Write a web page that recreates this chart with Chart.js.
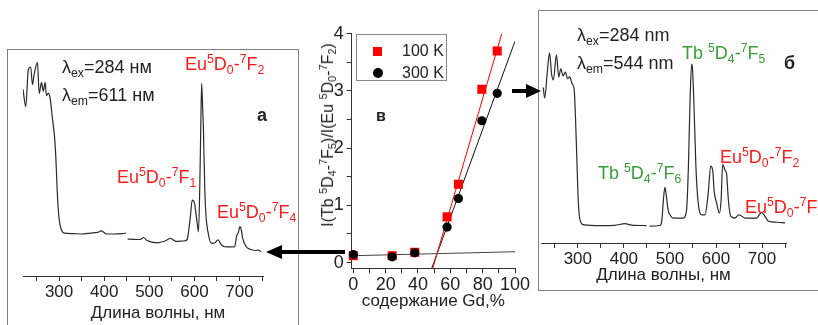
<!DOCTYPE html>
<html>
<head>
<meta charset="utf-8">
<script src="https://cdn.jsdelivr.net/npm/chart.js@4.4.1/dist/chart.umd.min.js"></script>
<style>
html, body { margin: 0; padding: 0; background: #fff; }
body { width: 818px; height: 325px; position: relative; overflow: hidden; font-family: "Liberation Sans", Arial, sans-serif; color: #222; }
.box { position: absolute; border: 1.5px solid #808080; box-sizing: border-box; }
canvas { position: absolute; }
.t { position: absolute; white-space: nowrap; line-height: 1; font-size: 18px; transform: translateY(-50%); }
.t sup, .t sub { font-size: 0.68em; line-height: 0; position: relative; vertical-align: baseline; }
.t sup { top: -0.55em; }
.t sub { top: 0.3em; }
.red { color: #ff1a1a; }
.green { color: #37a137; }
.b { font-weight: bold; }
#legend { position: absolute; left: 356px; top: 34px; width: 91px; height: 47px; border: 1px solid #888; box-sizing: border-box; font-size: 16px; }
#legend div { position: absolute; left: 0; white-space: nowrap; }
.mk { position: absolute; }
#ytitle { position: absolute; left: 328px; top: 135px; transform: translate(-50%, -50%) rotate(-90deg); white-space: nowrap; font-size: 16px; line-height: 1; }
#ytitle sup, #ytitle sub { font-size: 0.68em; line-height: 0; position: relative; vertical-align: baseline; }
#ytitle sup { top: -0.55em; }
#ytitle sub { top: 0.3em; }
svg { position: absolute; left: 0; top: 0; }
</style>
</head>
<body>

<div class="box" style="left:7px; top:49px; width:292px; height:300px;"></div>
<div class="box" style="left:538px; top:10px; width:300px; height:281px;"></div>

<canvas id="left" width="292" height="276" style="left:7px; top:49px;"></canvas>
<canvas id="mid" width="245" height="305" style="left:300px; top:20px;"></canvas>
<canvas id="right" width="280" height="250" style="left:538px; top:40px;"></canvas>

<!-- left panel (a) -->
<div class="t" style="left:62px; top:67px;">&lambda;<sub>ex</sub>=284 нм</div>
<div class="t" style="left:62px; top:95px;">&lambda;<sub>em</sub>=611 нм</div>
<div class="t red" style="left:185px; top:64px;">Eu<sup>5</sup>D<sub>0</sub>-<sup>7</sup>F<sub>2</sub></div>
<div class="t b" style="left:257px; top:115px;">а</div>
<div class="t red" style="left:117px; top:177px;">Eu<sup>5</sup>D<sub>0</sub>-<sup>7</sup>F<sub>1</sub></div>
<div class="t red" style="left:217px; top:212px;">Eu<sup>5</sup>D<sub>0</sub>-<sup>7</sup>F<sub>4</sub></div>
<div class="t" style="left:158px; top:312px; font-size:17px; transform:translate(-50%,-50%);">Длина волны, нм</div>

<!-- middle panel (в) -->
<div class="t b" style="left:376px; top:116px; font-size:16px;">в</div>
<div id="ytitle">I(Tb <sup>5</sup>D<sub>4</sub>-<sup>7</sup>F<sub>5</sub>)/I(Eu <sup>5</sup>D<sub>0</sub>-<sup>7</sup>F<sub>2</sub>)</div>
<div id="legend"></div>

<!-- right panel (б) -->
<div class="t" style="left:577px; top:35px;">&lambda;<sub>ex</sub>=284 nm</div>
<div class="t" style="left:577px; top:63px;">&lambda;<sub>em</sub>=544 nm</div>
<div class="t green" style="left:682px; top:53px;">Tb <sup>5</sup>D<sub>4</sub>-<sup>7</sup>F<sub>5</sub></div>
<div class="t b" style="left:784px; top:63px;">б</div>
<div class="t green" style="left:598px; top:173px;">Tb <sup>5</sup>D<sub>4</sub>-<sup>7</sup>F<sub>6</sub></div>
<div class="t red" style="left:720px; top:157px;">Eu<sup>5</sup>D<sub>0</sub>-<sup>7</sup>F<sub>2</sub></div>
<div class="t red" style="left:745px; top:207px;">Eu<sup>5</sup>D<sub>0</sub>-<sup>7</sup>F<sub>4</sub></div>

<svg width="818" height="325">
  <line x1="345" y1="252" x2="280" y2="252" stroke="#000" stroke-width="4"/>
  <polygon points="266,252 282,245 282,259" fill="#000"/>
  <line x1="512" y1="91" x2="528" y2="91" stroke="#000" stroke-width="4"/>
  <polygon points="541,91 526,84 526,98" fill="#000"/>
</svg>

<script>
// spectrum (a): excitation + emission, Eu line at 611 nm
const leftWavelength = [220, 226, 232, 237, 241, 245, 252, 256, 261, 265, 269, 272, 276, 280, 285, 290, 293, 296, 300, 305,
  312, 330, 350, 370, 385, 394, 405, 420, 440, 448, 450, 452, 470, 480, 487, 495, 517, 535, 547, 560,
  575, 584, 588, 591, 595, 600, 603, 606, 609, 612, 614, 616, 618, 620, 623, 626, 630, 637, 645, 652,
  660, 667, 680, 689, 694, 697, 701, 704, 707, 715, 722, 729, 735, 742, 748];
const leftIntensity = [85, 77, 94, 95, 87, 92, 97, 83, 88, 84, 88, 82, 83, 81, 72, 63, 53, 38, 26, 21,
  19.5, 19.3, 19.1, 19.5, 19.8, 20.5, 19.1, 19.1, 19.3, 19.5, null, 16.8, 16.6, 16.6, 17.5, 16.1, 15.1, 15.9, 17.1, 15.7,
  15.9, 16.6, 21.8, 27, 34.5, 33.2, 29, 24.1, 20.1, 42.3, 66.4, 87.6, 77.7, 66.4, 39.1, 26.4, 20.1, 14.9, 15, 16.4,
  14.1, 13.3, 13.2, 13.3, 18.6, 19.5, 22.4, 20.9, 17.1, 13.3, 12.3, 11.8, 11.6, 11.8, 11];

// spectrum (б): Tb line at 544 nm
const rightWavelength = [225, 228, 234, 238.5, 243, 247, 253.5, 258.5, 263, 268, 273, 277.5, 282.5, 287.5, 292, 295, 298, 300.5, 304, 311.5,
  351, 380, 402, 417, 449, 452, 456, 478, 482, 486, 489, 492, 496, 500, 507, 529, 536, 540, 543.5, 547,
  548.5, 552, 556.5, 561.5, 569, 576, 583, 588.5, 593, 596, 601.5, 607, 611, 614.5, 619.5, 623, 627, 632, 641, 650,
  663, 688, 699, 706.5, 714, 732, 750];
const rightIntensity = [81, 75.5, 90, 99, 88, 85, 98, 86.5, 90.7, 87, 89, 85.6, 86.5, 83, 80, 64.5, 42.6, 24, 13, 9.6,
  9.1, 9.2, 10.1, 9.3, 9.1, null, 8.8, 9.1, 11, 23, 29, 25, 17, 14.7, 13, 13, 17, 39, 73, 93,
  92, 73, 39, 20.6, 14.7, 14.7, 25.7, 40, 37.5, 27, 20.6, 15.5, 22, 41, 38, 36, 22, 14, 13, 14.7,
  13, 13, 16, 13.9, 11.3, 10.8, 10.5];

// ratio plot (в)
const gdContent = [0, 24, 38, 58, 65, 79.5, 89];
const ratio100K = [0.12, 0.12, 0.18, 0.8, 1.37, 3.03, 3.7];
const ratio300K = [0.14, 0.1, 0.17, 0.62, 1.12, 2.48, 2.96];
const fitLowX = [0, 100];
const fitLowY = [0.12, 0.19];
const fit100X = [49.1, 91.8];
const fit100Y = [-0.1, 4];
const fit300X = [48.5, 100];
const fit300Y = [-0.1, 3.87];
const seriesNames = ['100 K', '300 K'];

const FONT = '"Liberation Sans", Arial, sans-serif';
const pts = (xs, ys) => xs.map((x, i) => ({ x: x, y: ys[i] }));

const spectrumOptions = (pad, axisH, titleText, titlePadBottom) => ({
  responsive: false,
  animation: false,
  events: [],
  layout: { padding: pad },
  plugins: { legend: { display: false }, tooltip: { enabled: false } },
  scales: {
    x: {
      type: 'linear', min: 220, max: 752,
      afterFit: s => { s.height = axisH; },
      border: { color: '#333', width: 1 },
      grid: { drawOnChartArea: false, tickLength: 5, color: '#333' },
      ticks: {
        stepSize: 50, includeBounds: false, autoSkip: false, maxRotation: 0, padding: 1,
        color: '#222', font: { size: 17, family: FONT },
        callback: v => (v % 100 === 0 ? v : '')
      },
      title: {
        display: !!titleText, text: titleText, color: '#222',
        font: { size: 17, family: FONT }, padding: { top: 0, bottom: titlePadBottom }
      }
    },
    y: { display: false, min: 0, max: 100 }
  }
});

const spectrumSet = (xs, ys) => ({
  data: pts(xs, ys),
  borderColor: '#2a2a2a',
  borderWidth: 1.2,
  pointRadius: 0,
  cubicInterpolationMode: 'monotone',
  spanGaps: false
});

new Chart(document.getElementById('left'), {
  type: 'line',
  data: { datasets: [spectrumSet(leftWavelength, leftIntensity)] },
  options: spectrumOptions({ left: 16, right: 36, top: 7, bottom: 0 }, 49, '', 0)
});

new Chart(document.getElementById('right'), {
  type: 'line',
  data: { datasets: [spectrumSet(rightWavelength, rightIntensity)] },
  options: spectrumOptions({ left: 3, right: 32, top: 11, bottom: 0 }, 47, 'Длина волны, нм', 4)
});

new Chart(document.getElementById('mid'), {
  type: 'scatter',
  data: {
    datasets: [
      { label: seriesNames[1], data: pts(gdContent, ratio300K), pointStyle: 'circle', pointRadius: 4.6,
        backgroundColor: '#000', borderColor: '#000', borderWidth: 0, order: 0, clip: false },
      { label: seriesNames[0], data: pts(gdContent, ratio100K), pointStyle: 'rect', pointRadius: 6.4,
        backgroundColor: '#ff0000', borderColor: '#ff0000', borderWidth: 0, order: 1, clip: false },
      { type: 'line', data: pts(fitLowX, fitLowY), borderColor: '#444', borderWidth: 1, pointRadius: 0, order: 2 },
      { type: 'line', data: pts(fit100X, fit100Y), borderColor: '#ff0000', borderWidth: 1, pointRadius: 0, order: 3 },
      { type: 'line', data: pts(fit300X, fit300Y), borderColor: '#111', borderWidth: 1, pointRadius: 0, order: 4 }
    ]
  },
  options: {
    responsive: false,
    animation: false,
    events: [],
    layout: { padding: { left: 0, right: 30, top: 13.3, bottom: 0 } },
    plugins: { legend: { display: false }, tooltip: { enabled: false } },
    scales: {
      x: {
        type: 'linear', min: -1, max: 100,
        afterFit: s => { s.height = 56.7; },
        border: { color: '#333', width: 1 },
        grid: { drawOnChartArea: false, tickLength: 5, color: '#333' },
        ticks: {
          stepSize: 10, includeBounds: false, autoSkip: false, maxRotation: 0, padding: 1,
          color: '#222', font: { size: 18, family: FONT },
          callback: v => (v % 20 === 0 ? v : '')
        },
        title: {
          display: true, text: 'содержание Gd,%', color: '#222',
          font: { size: 17, family: FONT }, padding: { top: 0, bottom: 13 }
        }
      },
      y: {
        type: 'linear', min: -0.1, max: 4,
        afterFit: s => { s.width = 51.7; },
        border: { color: '#333', width: 1 },
        grid: { drawOnChartArea: false, tickLength: 5, color: '#333' },
        ticks: {
          stepSize: 0.5, includeBounds: false, autoSkip: false, padding: 3,
          color: '#222', font: { size: 18, family: FONT },
          callback: v => (Number.isInteger(v) ? v : '')
        }
      }
    }
  }
});

// legend box for plot (в)
const legend = document.getElementById('legend');
const legendMarks = [
  '<span class="mk" style="left:16px; top:8px; width:9px; height:9px; background:#ff0000;"></span>',
  '<span class="mk" style="left:16px; top:7px; width:10px; height:10px; border-radius:50%; background:#000;"></span>'
];
seriesNames.forEach((name, i) => {
  legend.insertAdjacentHTML('beforeend',
    '<div style="top:' + (4 + i * 22) + 'px; width:100%; height:22px;">' + legendMarks[i] +
    '<span style="position:absolute; left:45px; top:3px;">' + name + '</span></div>');
});
</script>
</body>
</html>
